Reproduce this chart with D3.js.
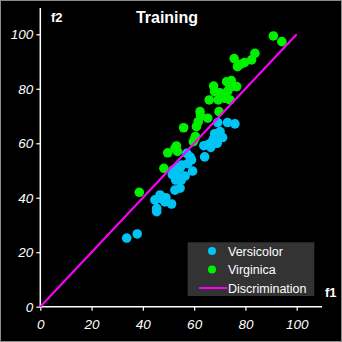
<!DOCTYPE html>
<html><head><meta charset="utf-8">
<script src="https://cdn.jsdelivr.net/npm/d3@7"></script>
<style>html,body{margin:0;padding:0;background:#000;}svg{display:block;}</style>
</head><body>
<script>
const versicolorX = [33.7,37.8,44.7,45.4,45.4,46.7,47.5,48.6,49.0,51.2,51.9,51.5,52.5,52.8,53.0,53.5,54.0,54.5,54.5,55.1,55.0,56.5,57.1,58.4,57.5,59.0,59.4,64.1,63.8,65.5,66.5,67.0,67.5,68.0,69.0,69.2,70.1,70.5,71.1,73.0,75.9];
const versicolorY = [25.2,26.7,39.2,36.1,34.9,41.0,39.5,38.5,40.0,37.7,50.2,48.5,42.8,46.5,49.0,51.0,47.0,43.5,50.8,52.0,46.5,48.0,56.3,55.0,52.5,53.9,49.8,55.0,59.1,59.5,58.5,60.5,61.5,63.5,60.0,67.6,64.3,62.5,62.1,67.6,67.1];
const virginicaX = [38.6,48.2,49.7,52.5,53.1,53.5,55.9,59.7,60.3,60.5,60.9,61.6,62.3,62.5,65.3,65.9,67.6,68.0,69.4,69.7,70.0,70.5,72.0,72.7,73.0,74.0,74.0,74.5,75.5,76.6,75.6,76.9,78.0,79.6,82.4,83.7,90.9,94.2];
const virginicaY = [42.0,50.8,56.5,58.1,59.0,57.0,65.7,60.6,61.8,62.5,66.1,67.9,71.6,70.0,69.2,75.9,81.0,79.0,75.9,71.6,78.5,77.0,76.5,82.6,79.0,75.9,80.5,83.0,81.0,80.8,91.1,88.1,89.0,89.6,90.6,93.0,99.4,97.3];
const lineX = [0, 100];
const lineY = [0, 100];
const ticks = [0, 20, 40, 60, 80, 100];
const legendLabels = ["Versicolor", "Virginica", "Discrimination"];

const W = 342, H = 342;
const svg = d3.select("body").append("svg").attr("width", W).attr("height", H);
svg.append("rect").attr("x",0.5).attr("y",0.5).attr("width",W-1).attr("height",H-1)
  .attr("fill","#000").attr("stroke","#8a8a8a").attr("stroke-width",1);

const x = d3.scaleLinear().domain([0,100]).range([40.3,296.7]);
const y = d3.scaleLinear().domain([0,100]).range([306.7,34.3]);
const cBlue = "#00c4f4", cGreen = "#00f000", cLine = "#ff00ff";
const font = "Liberation Sans, Arial, sans-serif";

// axes
const gx = svg.append("g").attr("transform",`translate(0,${y(0)})`)
  .call(d3.axisBottom(x).tickValues(ticks).tickSize(4).tickPadding(9));
const gy = svg.append("g").attr("transform",`translate(${x(0)},0)`)
  .call(d3.axisLeft(y).tickValues(ticks).tickSize(4).tickPadding(3));
[gx,gy].forEach(g=>{
  g.select(".domain").remove();
  g.selectAll("line").attr("stroke","#fff").attr("stroke-width",1.2);
  g.selectAll("text").attr("fill","#fff").attr("font-family",font)
    .attr("font-size",13.5).attr("font-style","italic");
});
svg.append("line").attr("x1",x(0)).attr("x2",322).attr("y1",y(0)).attr("y2",y(0))
  .attr("stroke","#fff").attr("stroke-width",1.5);
svg.append("line").attr("x1",x(0)).attr("x2",x(0)).attr("y1",8).attr("y2",y(0))
  .attr("stroke","#fff").attr("stroke-width",1.5);

// points
const vers = versicolorX.map((d,i)=>({x:d,y:versicolorY[i]}));
const virg = virginicaX.map((d,i)=>({x:d,y:virginicaY[i]}));
svg.append("g").selectAll("circle").data(vers).join("circle")
  .attr("cx",d=>x(d.x)).attr("cy",d=>y(d.y)).attr("r",4.8).attr("fill",cBlue);
svg.append("g").selectAll("circle").data(virg).join("circle")
  .attr("cx",d=>x(d.x)).attr("cy",d=>y(d.y)).attr("r",4.8).attr("fill",cGreen);

// discrimination line
svg.append("line").attr("x1",x(lineX[0])).attr("y1",y(lineY[0])).attr("x2",x(lineX[1])).attr("y2",y(lineY[1]))
  .attr("stroke",cLine).attr("stroke-width",2);

// labels
svg.append("text").attr("x",167).attr("y",23).attr("text-anchor","middle").attr("fill","#fff")
  .attr("font-family",font).attr("font-size",16).attr("font-weight","bold").text("Training");
svg.append("text").attr("x",51).attr("y",22).attr("fill","#fff")
  .attr("font-family",font).attr("font-size",13).attr("font-weight","bold").text("f2");
svg.append("text").attr("x",325).attr("y",297).attr("fill","#fff")
  .attr("font-family",font).attr("font-size",13).attr("font-weight","bold").text("f1");

// legend
const lg = svg.append("g");
lg.append("rect").attr("x",187.7).attr("y",242.3).attr("width",126.6).attr("height",53.7).attr("fill","#333");
const ly = [251, 269.5, 288];
lg.append("circle").attr("cx",212).attr("cy",ly[0]).attr("r",4).attr("fill",cBlue);
lg.append("circle").attr("cx",212).attr("cy",ly[1]).attr("r",4).attr("fill",cGreen);
lg.append("line").attr("x1",199).attr("x2",227).attr("y1",ly[2]).attr("y2",ly[2]).attr("stroke",cLine).attr("stroke-width",2);
legendLabels.forEach((t,i)=>{
  lg.append("text").attr("x",228).attr("y",ly[i]+4.5).attr("fill","#fff")
    .attr("font-family",font).attr("font-size",12.5).text(t);
});
</script>
</body></html>
